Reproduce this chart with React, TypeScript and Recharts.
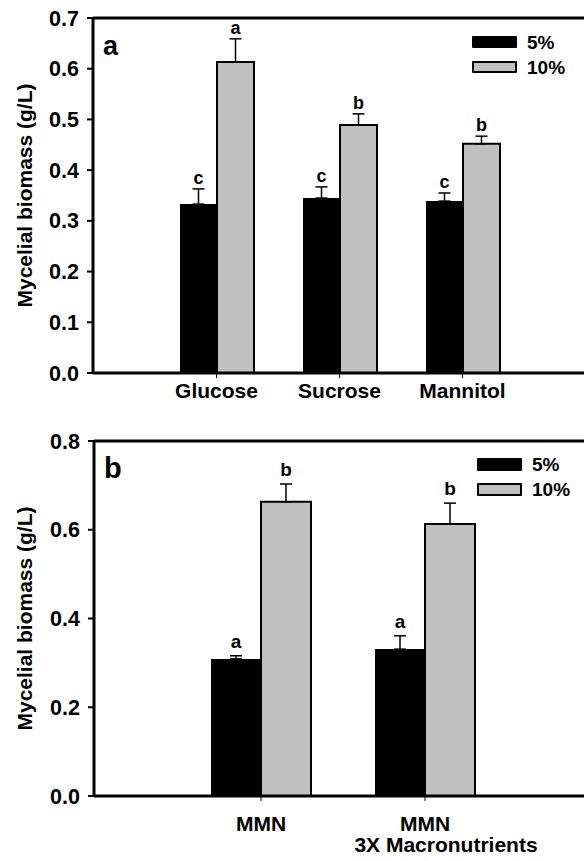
import { BarChart, Bar, XAxis, YAxis, ErrorBar, LabelList, ReferenceLine, Legend } from "recharts";

// panel a: carbon source
const catsA = ["Glucose", "Sucrose", "Mannitol"];
const a5 = [0.333, 0.345, 0.339];
const a5Err = [0.03, 0.022, 0.016];
const a10 = [0.613, 0.489, 0.452];
const a10Err = [0.046, 0.022, 0.015];
const a5Letters = ["c", "c", "c"];
const a10Letters = ["a", "b", "b"];
const ticksA = [0, 0.1, 0.2, 0.3, 0.4, 0.5, 0.6, 0.7];

// panel b: medium
const catsB = ["MMN", "MMN\n3X Macronutrients"];
const b5 = [0.309, 0.331];
const b5Err = [0.007, 0.03];
const b10 = [0.663, 0.613];
const b10Err = [0.04, 0.047];
const b5Letters = ["a", "a"];
const b10Letters = ["b", "b"];
const ticksB = [0, 0.2, 0.4, 0.6, 0.8];

const seriesNames = ["5%", "10%"];

const FONT = "'Liberation Sans', Arial, sans-serif";
const GRAY = "#c0c0c0";

function XTick({ x, y, payload, offset }: any) {
    const lines = String(payload.value).split("\n");
    return (
        <text x={x} y={y + offset} textAnchor="middle" fontFamily={FONT} fontWeight="bold" fontSize={21} fill="#000">
            {lines.map((l, i) => (
                // second line sits a bit right of the tick in the original
                <tspan key={i} x={i === 0 ? x : x + 21} dy={i === 0 ? "0.71em" : "1.0em"}>
                    {l}
                </tspan>
            ))}
        </text>
    );
}

function letterLabel(vals: number[], errs: number[], gap: number, size: number) {
    return (props: any) => {
        const { x, y, width, height, value, index } = props;
        const pxPerUnit = Number(height) / vals[index];
        const top = Number(y) - errs[index] * pxPerUnit - gap;
        return (
            <text x={Number(x) + Number(width) / 2} y={top} textAnchor="middle" fontFamily={FONT} fontWeight="bold" fontSize={size} fill="#000">
                {value}
            </text>
        );
    };
}

function LegendBox({ swH, gap }: { swH: number; gap: number }) {
    return (
        <div style={{ fontFamily: FONT, fontWeight: "bold", fontSize: 19, color: "#000" }}>
            {seriesNames.map((n, i) => (
                <div key={n} style={{ display: "flex", alignItems: "center", height: swH, marginBottom: i === 0 ? gap : 0 }}>
                    <div
                        style={{
                            width: i === 0 ? 45 : 41,
                            height: i === 0 ? swH : swH - 4,
                            background: i === 0 ? "#000" : GRAY,
                            border: i === 0 ? "none" : "2px solid #000",
                            borderRadius: 1,
                        }}
                    />
                    <span style={{ marginLeft: 10, lineHeight: 1 }}>{n}</span>
                </div>
            ))}
        </div>
    );
}

type PanelProps = {
    cats: string[];
    v5: number[];
    e5: number[];
    v10: number[];
    e10: number[];
    l5: string[];
    l10: string[];
    ticks: number[];
    yMax: number;
    top: number;
    height: number;
    marginTop: number;
    axisLeft: number;
    padL: number;
    padR: number;
    barSize: number;
    xAxisHeight: number;
    labelOffset: number;
    letterGap: number;
    letterSize: number;
    panel: string;
    panelY: number;
    panelSize: number;
    legendTop: number;
    legendLeft: number;
    swH: number;
    legGap: number;
};

function Panel(p: PanelProps) {
    const data = p.cats.map((c, i) => ({
        name: c,
        v5: p.v5[i],
        v10: p.v10[i],
        e5: [0, p.e5[i]],
        e10: [0, p.e10[i]],
        l5: p.l5[i],
        l10: p.l10[i],
    }));
    const plotH = p.height - p.marginTop - p.xAxisHeight;
    const titleY = p.marginTop + plotH / 2;
    return (
        <div style={{ position: "absolute", left: 0, top: p.top }}>
            <BarChart
                width={600}
                height={p.height}
                data={data}
                margin={{ top: p.marginTop, right: 14, left: 0, bottom: 0 }}
                barGap={0}
                barSize={p.barSize}
            >
                <XAxis
                    dataKey="name"
                    height={p.xAxisHeight}
                    padding={{ left: p.padL, right: p.padR }}
                    axisLine={{ stroke: "#000", strokeWidth: 3 }}
                    tickLine={{ stroke: "#000", strokeWidth: 1 }}
                    tickSize={5}
                    interval={0}
                    tick={<XTick offset={p.labelOffset} />}
                />
                <YAxis
                    width={p.axisLeft}
                    domain={[0, p.yMax]}
                    ticks={p.ticks}
                    interval={0}
                    tickFormatter={(v: number) => v.toFixed(1)}
                    axisLine={{ stroke: "#000", strokeWidth: 3 }}
                    tickLine={{ stroke: "#000", strokeWidth: 2 }}
                    tickSize={6}
                    tickMargin={8}
                    tick={{ fontFamily: FONT, fontWeight: "bold", fontSize: 21.5, fill: "#000" }}
                    label={{
                        content: () => (
                            <text
                                x={24}
                                y={titleY}
                                transform={`rotate(-90 24 ${titleY})`}
                                textAnchor="middle"
                                dominantBaseline="central"
                                fontFamily={FONT}
                                fontWeight="bold"
                                fontSize={21}
                                fill="#000"
                            >
                                Mycelial biomass (g/L)
                            </text>
                        ),
                    }}
                />
                <ReferenceLine y={p.yMax} stroke="#000" strokeWidth={3} ifOverflow="visible" />
                <Legend
                    layout="horizontal"
                    verticalAlign="middle"
                    align="center"
                    content={() => <LegendBox swH={p.swH} gap={p.legGap} />}
                    wrapperStyle={{ left: p.legendLeft, top: p.legendTop, width: 110 }}
                />
                <Bar dataKey="v5" name={seriesNames[0]} fill="#000" isAnimationActive={false}>
                    <ErrorBar dataKey="e5" width={6} stroke="#000" strokeWidth={1.5} direction="y" />
                    <LabelList dataKey="l5" content={letterLabel(p.v5, p.e5, 5 + p.letterGap, p.letterSize)} />
                </Bar>
                <Bar dataKey="v10" name={seriesNames[1]} fill={GRAY} stroke="#000" strokeWidth={2} isAnimationActive={false}>
                    <ErrorBar dataKey="e10" width={6} stroke="#000" strokeWidth={1.5} direction="y" />
                    <LabelList dataKey="l10" content={letterLabel(p.v10, p.e10, 5 + p.letterGap, p.letterSize)} />
                </Bar>
                <text x={p.axisLeft + 10} y={p.panelY} fontFamily={FONT} fontWeight="bold" fontSize={p.panelSize} fill="#000">
                    {p.panel}
                </text>
            </BarChart>
        </div>
    );
}

export default function App() {
    return (
        <div style={{ position: "absolute", left: 0, top: 0, width: 584, height: 861, overflow: "hidden", background: "#fff" }}>
            <Panel
                cats={catsA}
                v5={a5}
                e5={a5Err}
                v10={a10}
                e10={a10Err}
                l5={a5Letters}
                l10={a10Letters}
                ticks={ticksA}
                yMax={0.7}
                top={0}
                height={420}
                marginTop={18}
                axisLeft={93}
                padL={62}
                padR={62}
                barSize={37}
                xAxisHeight={47}
                labelOffset={3}
                letterGap={0}
                letterSize={18}
                panel="a"
                panelY={55}
                panelSize={27}
                legendTop={36}
                legendLeft={472}
                swH={12}
                legGap={13}
            />
            <Panel
                cats={catsB}
                v5={b5}
                e5={b5Err}
                v10={b10}
                e10={b10Err}
                l5={b5Letters}
                l10={b10Letters}
                ticks={ticksB}
                yMax={0.8}
                top={420}
                height={441}
                marginTop={21}
                axisLeft={94}
                padL={85}
                padR={79}
                barSize={50}
                xAxisHeight={65}
                labelOffset={13}
                letterGap={3}
                letterSize={19}
                panel="b"
                panelY={58}
                panelSize={29}
                legendTop={38}
                legendLeft={477}
                swH={13}
                legGap={12}
            />
        </div>
    );
}
